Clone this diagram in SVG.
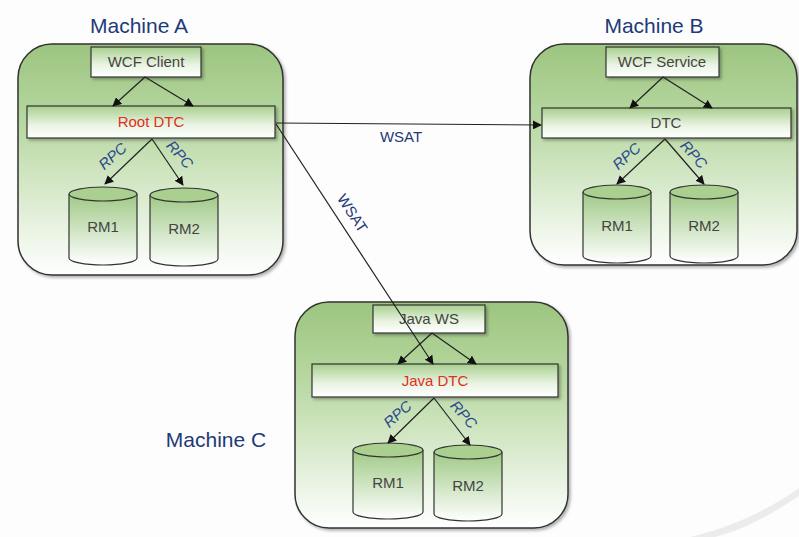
<svg xmlns="http://www.w3.org/2000/svg" width="799" height="537" viewBox="0 0 799 537">
<defs>
<linearGradient id="gCont" x1="0" y1="0" x2="0" y2="1">
<stop offset="0" stop-color="#9cc580"/>
<stop offset="0.35" stop-color="#b8d8a2"/>
<stop offset="1" stop-color="#ffffff"/>
</linearGradient>
<linearGradient id="gBox" x1="0" y1="0" x2="0" y2="1">
<stop offset="0" stop-color="#a8cf8e"/>
<stop offset="0.6" stop-color="#eaf4e3"/>
<stop offset="1" stop-color="#ffffff"/>
</linearGradient>
<linearGradient id="gCyl" x1="0" y1="0" x2="0" y2="1">
<stop offset="0" stop-color="#9fc986"/>
<stop offset="1" stop-color="#ffffff"/>
</linearGradient>
<marker id="arr" viewBox="0 0 10 10" refX="9" refY="5" markerWidth="9" markerHeight="9" markerUnits="userSpaceOnUse" orient="auto">
<path d="M0,0 L10,5 L0,10 z" fill="#111"/>
</marker>
<filter id="sh" x="-10%" y="-10%" width="130%" height="130%">
<feDropShadow dx="2" dy="2" stdDeviation="1.5" flood-color="#000" flood-opacity="0.3"/>
</filter>
</defs>
<style>
.cont{fill:url(#gCont);stroke:#333;stroke-width:1.5;filter:url(#sh)}
.box{fill:url(#gBox);stroke:#333;stroke-width:1.2;filter:url(#sh)}
.cyl{fill:url(#gCyl);stroke:#333;stroke-width:1.2}
.ctop{fill:#a9d08f;stroke:#333;stroke-width:1.2}
.t{font-family:"Liberation Sans",Arial,sans-serif;fill:#444;text-anchor:middle}
.lbl{font-size:15px}
.red{fill:#e0301e}
.mach{font-family:"Liberation Sans",Arial,sans-serif;font-size:21px;fill:#1f3a78;text-anchor:middle}
.rpc{font-family:"Liberation Sans",Arial,sans-serif;font-size:15px;fill:#2b4a8c;text-anchor:middle;font-style:italic}
.con{stroke:#222;stroke-width:1.2;fill:none;marker-end:url(#arr)}
.wsat{font-family:"Liberation Sans",Arial,sans-serif;font-size:15px;fill:#1f3a78;text-anchor:middle}
</style>
<rect width="799" height="537" fill="#fdfdfd"/>
<path d="M690,537 C740,525 775,505 799,488 L799,496 C775,512 745,530 715,537 z" fill="#ececec"/>

<g id="machineA">
<text class="mach" x="139" y="33">Machine A</text>
<rect class="cont" x="18" y="44" width="265" height="231" rx="34"/>
</g>
<g id="machineB">
<text class="mach" x="654" y="33">Machine B</text>
<rect class="cont" x="530" y="44" width="267" height="221" rx="34"/>
</g>
<g id="machineC">
<text class="mach" x="216" y="447">Machine C</text>
<rect class="cont" x="295" y="302" width="273" height="226" rx="34"/>
</g>

<g id="wcfClient"><rect class="box" x="91" y="47" width="110" height="30"/><text class="t lbl" x="146" y="67">WCF Client</text></g>
<g id="rootDTC"><rect class="box" x="27" y="106" width="248" height="32"/><text class="t lbl red" x="151" y="127">Root DTC</text></g>
<g id="a_rm1"><path class="cyl" d="M69,194 L69,258 A34,7 0 0 0 137,258 L137,194"/><ellipse class="ctop" cx="103" cy="194" rx="34" ry="7"/><text class="t lbl" x="103" y="232">RM1</text></g>
<g id="a_rm2"><path class="cyl" d="M150,195 L150,259 A34,7 0 0 0 218,259 L218,195"/><ellipse class="ctop" cx="184" cy="195" rx="34" ry="7"/><text class="t lbl" x="184" y="234">RM2</text></g>

<g id="wcfService"><rect class="box" x="606" y="47" width="113" height="30"/><text class="t lbl" x="662" y="67">WCF Service</text></g>
<g id="dtcB"><rect class="box" x="542" y="108" width="249" height="30"/><text class="t lbl" x="666" y="128">DTC</text></g>
<g id="b_rm1"><path class="cyl" d="M583,192 L583,256 A34,7 0 0 0 651,256 L651,192"/><ellipse class="ctop" cx="617" cy="192" rx="34" ry="7"/><text class="t lbl" x="617" y="231">RM1</text></g>
<g id="b_rm2"><path class="cyl" d="M670,192 L670,256 A34,7 0 0 0 738,256 L738,192"/><ellipse class="ctop" cx="704" cy="192" rx="34" ry="7"/><text class="t lbl" x="704" y="231">RM2</text></g>

<g id="javaWS"><rect class="box" x="373" y="305" width="112" height="28"/><text class="t lbl" x="429" y="324">Java WS</text></g>
<g id="javaDTC"><rect class="box" x="312" y="364" width="246" height="33"/><text class="t lbl red" x="435" y="386">Java DTC</text></g>
<g id="c_rm1"><path class="cyl" d="M353,450 L353,512 A35,7 0 0 0 423,512 L423,450"/><ellipse class="ctop" cx="388" cy="450" rx="35" ry="7"/><text class="t lbl" x="388" y="488">RM1</text></g>
<g id="c_rm2"><path class="cyl" d="M434,452 L434,514 A34,7 0 0 0 502,514 L502,452"/><ellipse class="ctop" cx="468" cy="452" rx="34" ry="7"/><text class="t lbl" x="468" y="491">RM2</text></g>

<g id="connectors">
<line class="con" x1="145" y1="77" x2="113" y2="106"/>
<line class="con" x1="145" y1="77" x2="193" y2="106"/>
<line class="con" x1="152" y1="139" x2="105" y2="184"/>
<line class="con" x1="152" y1="139" x2="183" y2="185"/>
<line class="con" x1="663" y1="77" x2="630" y2="108"/>
<line class="con" x1="663" y1="77" x2="712" y2="108"/>
<line class="con" x1="665" y1="139" x2="617" y2="184"/>
<line class="con" x1="665" y1="139" x2="704" y2="184"/>
<line class="con" x1="432" y1="333" x2="398" y2="364"/>
<line class="con" x1="432" y1="333" x2="476" y2="364"/>
<line class="con" x1="434" y1="398" x2="388" y2="443"/>
<line class="con" x1="434" y1="398" x2="470" y2="445"/>
<line class="con" x1="276" y1="123" x2="541" y2="125"/>
<line class="con" x1="276" y1="124" x2="433" y2="364"/>
<text class="rpc" transform="translate(116,160) rotate(-42)">RPC</text>
<text class="rpc" transform="translate(176,158) rotate(48)">RPC</text>
<text class="rpc" transform="translate(630,160) rotate(-42)">RPC</text>
<text class="rpc" transform="translate(690,158) rotate(48)">RPC</text>
<text class="rpc" transform="translate(401,418) rotate(-42)">RPC</text>
<text class="rpc" transform="translate(460,418) rotate(48)">RPC</text>
<text class="wsat" x="401" y="142">WSAT</text>
<text class="wsat" transform="translate(348,216) rotate(57)">WSAT</text>
</g>
</svg>
